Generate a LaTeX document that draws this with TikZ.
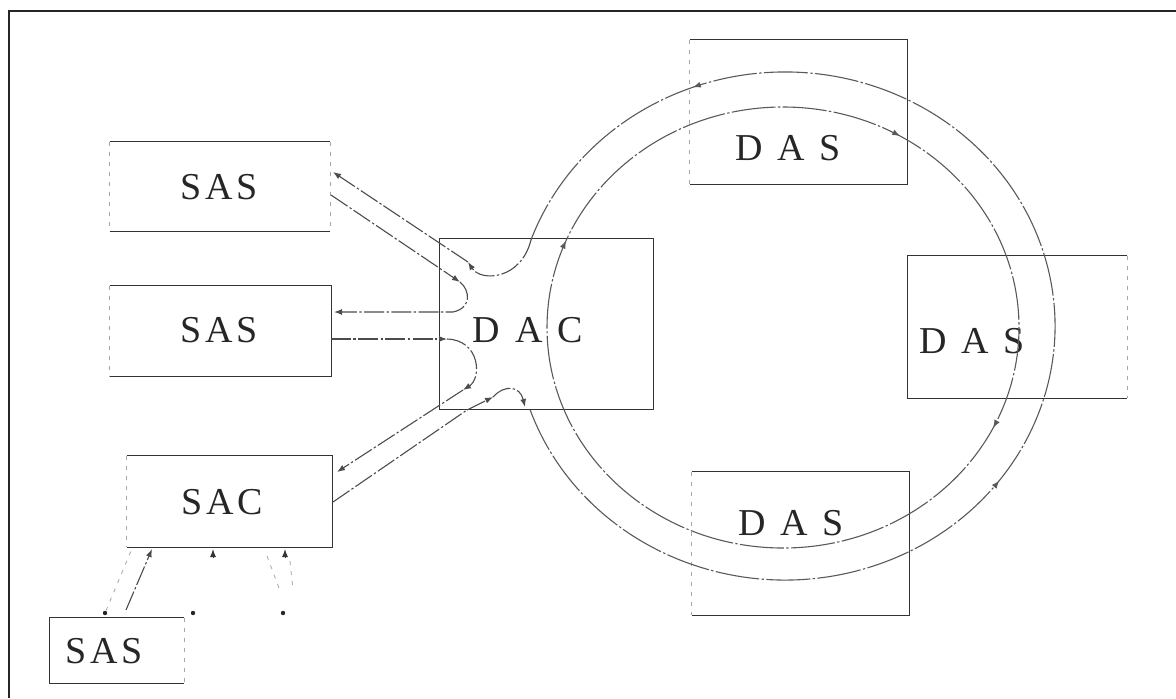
\documentclass[tikz,border=0pt]{standalone}
\usepackage{fontspec}
\setmainfont{Liberation Serif}
\usetikzlibrary{arrows.meta,decorations.markings,calc}
\begin{document}
\begin{tikzpicture}[x=0.5pt,y=-0.5pt,
  box/.style={draw=none, rectangle, inner sep=0pt},
  edge/.style={draw=black!80, line width=0.6pt},
  faint/.style={draw=black!35, line width=0.4pt, dash pattern=on 2pt off 3pt},
  lbl/.style={font=\fontsize{19}{22}\selectfont, text=black!85, inner sep=0pt},
  ring/.style={draw=black!65, line width=0.55pt, dash pattern=on 22pt off 1.2pt on 1.2pt off 1.2pt},
  conn/.style={draw=black!70, line width=0.55pt, dash pattern=on 10pt off 1.2pt on 1.2pt off 1.2pt},
  tip/.style={-{Latex[length=4pt,width=3pt]}},
  port/.style={circle, fill=black!85, inner sep=0pt, minimum size=2.2pt},
]
\useasboundingbox (0,0) rectangle (1176,698);

% frame (top and left only)
\coordinate (fr1) at (1176,11);
\coordinate (fr2) at (9,11);
\coordinate (fr3) at (9,698);
\draw[black!85, line width=1pt] (fr1) -- (fr2) -- (fr3);

% boxes
\node[box, minimum width=110pt,   minimum height=44.5pt] (sas1) at (220,186.5) {};
\node[box, minimum width=110.5pt, minimum height=45pt]   (sas2) at (220.5,331) {};
\node[box, minimum width=102.5pt, minimum height=45.5pt] (sac)  at (229.5,501.5) {};
\node[box, minimum width=67pt,    minimum height=32.5pt] (sas3) at (117,650.5) {};
\node[box, minimum width=106.5pt, minimum height=85pt]   (dac)  at (546.5,324) {};
\node[box, minimum width=108.5pt, minimum height=72pt]   (das1) at (798.5,112) {};
\node[box, minimum width=109.5pt, minimum height=71pt]   (das2) at (1017.5,327) {};
\node[box, minimum width=108.5pt, minimum height=71.5pt] (das3) at (800.5,543.5) {};

% box outlines
\draw[edge] (sas1.north west) -- (sas1.north east);
\draw[edge] (sas1.south west) -- (sas1.south east);
\draw[faint] (sas1.north east) -- (sas1.south east);
\draw[faint] (sas1.north west) -- (sas1.south west);

\draw[edge] (sas2.north west) -- (sas2.north east) -- (sas2.south east) -- (sas2.south west);
\draw[faint] (sas2.north west) -- (sas2.south west);

\draw[edge] (sac.north west) -- (sac.north east) -- (sac.south east) -- (sac.south west);
\draw[faint] (sac.north west) -- (sac.south west);

\draw[edge] (sas3.north east) -- (sas3.north west) -- (sas3.south west) -- (sas3.south east);
\draw[faint] (sas3.north east) -- (sas3.south east);

\draw[edge] (dac.north west) rectangle (dac.south east);

\draw[edge] (das1.north west) -- (das1.north east) -- (das1.south east) -- (das1.south west);
\draw[faint] (das1.north west) -- (das1.south west);

\draw[edge] (das2.north east) -- (das2.north west) -- (das2.south west) -- (das2.south east);
\draw[faint] (das2.north east) -- (das2.south east);

\draw[edge] (das3.north west) -- (das3.north east) -- (das3.south east) -- (das3.south west);
\draw[faint] (das3.north west) -- (das3.south west);

% labels
\node[lbl] (sas1t) at (219,187) {S\kern2pt A\kern2pt S};
\node[lbl] (sas2t) at (219,330) {S\kern2pt A\kern2pt S};
\node[lbl] (sact)  at (222,502) {S\kern2pt A\kern2pt C};
\node[lbl] (sas3t) at (104,651) {S\kern2pt A\kern2pt S};
\node[lbl] (dact)  at (528,330) {D\hspace{7.5pt}A\hspace{7.5pt}C};
\node[lbl] (das1t) at (788,148) {D\hspace{7.5pt}A\hspace{7.5pt}S};
\node[lbl] (das2t) at (972,341) {D\hspace{7.5pt}A\hspace{7.5pt}S};
\node[lbl] (das3t) at (791,523) {D\hspace{7.5pt}A\hspace{7.5pt}S};

% rings
\coordinate (oc) at (785,326);
\coordinate (ic) at (783,327.5);
\draw[ring, postaction={decorate}, decoration={markings,
    mark=at position 0.387 with {\arrow{Latex[length=4pt,width=3pt]}},
    mark=at position 0.844 with {\arrow{Latex[length=4pt,width=3pt]}}}]
  (oc) ++(199.3:135pt and 127pt) coordinate (obot)
  arc[start angle=199.3, end angle=520.2, x radius=135pt, y radius=127pt] coordinate (otop);
\draw[ring, postaction={decorate}, decoration={markings,
    mark=at position 0.0625 with {\arrow{Latex[length=4pt,width=3pt]}},
    mark=at position 0.335 with {\arrow{Latex[length=4pt,width=3pt]}},
    mark=at position 0.573 with {\arrow{Latex[length=4pt,width=3pt]}}}]
  (ic) ++(180:118pt and 110.25pt)
  arc[start angle=180, end angle=-180, x radius=118pt, y radius=110.25pt];

% DAC internal paths and links
\coordinate (u1) at (468,262);
\coordinate (s1a) at (333,172);
\coordinate (s1b) at (331,195);
\coordinate (d1) at (460,282);
\coordinate (d2) at (453,312);
\coordinate (s2a) at (334,312);
\coordinate (s2b) at (331,339);
\coordinate (d3) at (447,339);
\coordinate (d4) at (463,390);
\coordinate (ca) at (337,472);
\coordinate (cb) at (333,502);
\coordinate (b1) at (467,410);
\coordinate (b2) at (493,397);
\coordinate (b3) at (525,407);

\draw[conn,tip] (otop) .. controls (521,280) and (481,282) .. (u1);
\draw[conn,tip] (u1) -- (s1a);
\draw[conn,tip] (s1b) -- (d1);
\draw[conn,tip] (d1) .. controls (470,290) and (472,308) .. (d2) -- (s2a);
\draw[conn,tip] (s2b) -- (d3);
\draw[conn,tip] (d3) .. controls (480,340) and (482,378) .. (d4);
\draw[conn,tip] (d4) -- (ca);
\draw[conn] (cb) -- (b1);
\draw[conn,tip] (b1) -- (b2);
\draw[conn,tip] (b2) .. controls (505,384) and (520,386) .. (b3);

% SAC ports
\node[port] (p1) at (105,613) {};
\node[port] (p2) at (193,613) {};
\node[port] (p3) at (283,613) {};
\coordinate (q1) at (152,549);
\coordinate (q1b) at (131,551);
\coordinate (r1) at (126,610);
\coordinate (q2) at (213,549);
\coordinate (q2s) at (213,557);
\coordinate (q3) at (285,549);
\coordinate (q3s) at (285,557);
\coordinate (q3a) at (267,556);
\coordinate (q3b) at (279,588);
\coordinate (q3c) at (290,561);
\coordinate (q3d) at (293,590);
\draw[conn,tip] (r1) -- (q1);
\draw[faint] (p1) -- (q1b);
\draw[tip, black!80, line width=0.5pt] (q2s) -- (q2);
\draw[tip, black!80, line width=0.5pt] (q3s) -- (q3);
\draw[faint] (q3a) -- (q3b);
\draw[faint] (q3c) -- (q3d);
\end{tikzpicture}
\end{document}
